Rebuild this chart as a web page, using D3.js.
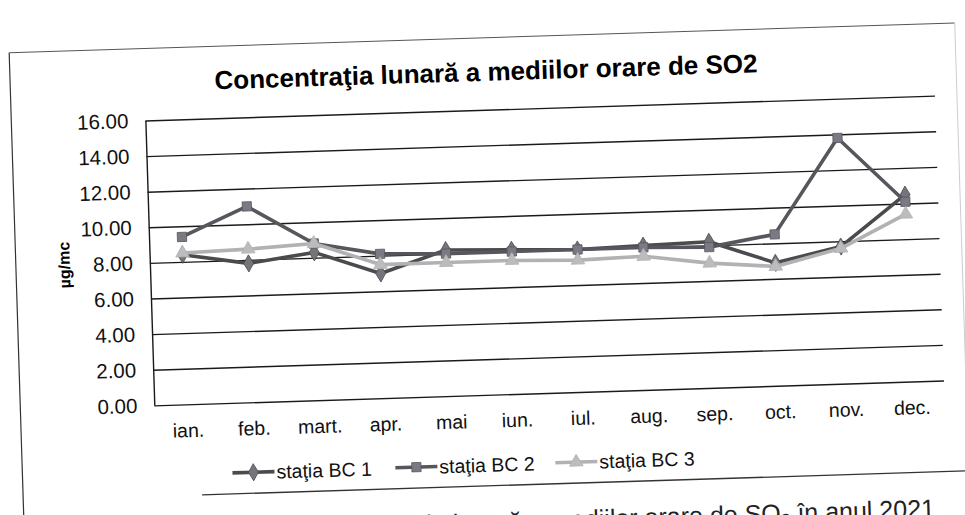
<!DOCTYPE html>
<html>
<head>
<meta charset="utf-8">
<script src="https://cdn.jsdelivr.net/npm/d3@7"></script>
<style>
  body { margin: 0; background: #fff; }
  svg { display: block; font-family: "Liberation Sans", Arial, sans-serif; }
</style>
</head>
<body>
<div id="so2-chart"></div>
<script>
let width = 965, height = 515

// DATA
let months = ['ian.', 'feb.', 'mart.', 'apr.', 'mai', 'iun.', 'iul.', 'aug.', 'sep.', 'oct.', 'nov.', 'dec.']
let bc1 = [8.4, 7.8, 8.3, 7.0, 8.2, 8.1, 8.0, 8.1, 8.2, 6.9, 7.7, 10.5]
let bc2 = [9.4, 11.0, 8.8, 8.1, 8.0, 8.0, 8.0, 8.0, 7.9, 8.5, 13.8, 10.1]
let bc3 = [8.5, 8.6, 8.8, 7.5, 7.5, 7.5, 7.4, 7.5, 7.0, 6.7, 7.6, 9.4]
let seriesNames = ['staţia BC 1', 'staţia BC 2', 'staţia BC 3']
let yTicks = [0, 2, 4, 6, 8, 10, 12, 14, 16]

let plot = { left: 150, right: 940, top: 108, bottom: 393 }

let series = [
  { name: seriesNames[0], values: bc1, line: '#4b4b4f', fill: '#74747a', symbol: d3.symbolDiamond, size: 85 },
  { name: seriesNames[1], values: bc2, line: '#56565c', fill: '#7a7a84', symbol: d3.symbolSquare, size: 85 },
  { name: seriesNames[2], values: bc3, line: '#b2b2b4', fill: '#bcbcbe', symbol: d3.symbolTriangle, size: 80 }
]

// SCALES
let x = d3.scalePoint()
  .domain(months)
  .range([plot.left, plot.right])
  .padding(0.5)

let y = d3.scaleLinear()
  .domain([0, 16])
  .range([plot.bottom, plot.top])

let svg = d3.select('#so2-chart')
  .append('svg')
  .attr('width', width)
  .attr('height', height)

// the scanned page is slightly tilted
let page = svg.append('g')
  .attr('transform', 'rotate(-1.8 545 262)')

// FRAME
page.append('line')
  .attr('x1', 16).attr('y1', 36).attr('x2', 16).attr('y2', 540)
  .attr('stroke', '#333').attr('stroke-width', 1.2)
page.append('line')
  .attr('x1', 16).attr('y1', 36).attr('x2', 962).attr('y2', 36)
  .attr('stroke', '#555').attr('stroke-width', 1)
page.append('line')
  .attr('x1', 962).attr('y1', 36).attr('x2', 962).attr('y2', 484)
  .attr('stroke', '#ccc').attr('stroke-width', 1)
page.append('line')
  .attr('x1', 195).attr('y1', 484).attr('x2', 962).attr('y2', 484)
  .attr('stroke', '#333').attr('stroke-width', 1.3)

// TITLE
page.append('text')
  .attr('x', 492)
  .attr('y', 79)
  .attr('text-anchor', 'middle')
  .style('font-size', '26px')
  .style('font-weight', 'bold')
  .text('Concentraţia lunară a mediilor orare de SO2')

// GRID LINES
let grid = page.append('g')
  .attr('transform', 'translate(' + plot.left + ',0)')
  .call(d3.axisLeft(y)
    .tickValues(yTicks)
    .tickSize(-(plot.right - plot.left))
    .tickFormat('')
  )
grid.selectAll('.domain').remove()
grid.selectAll('.tick line')
  .attr('stroke', '#1a1a1a')
  .attr('stroke-width', 1.4)

// Y AXIS
let yAxis = page.append('g')
  .attr('transform', 'translate(' + plot.left + ',0)')
  .call(d3.axisLeft(y)
    .tickValues(yTicks)
    .tickSize(0)
    .tickPadding(17)
    .tickFormat(d3.format('.2f'))
  )
yAxis.select('.domain')
  .attr('stroke', '#1a1a1a')
  .attr('stroke-width', 1.4)
yAxis.selectAll('text')
  .style('font-size', '20.5px')
  .style('font-family', '"Liberation Sans", Arial, sans-serif')
  .attr('fill', '#111')

page.append('text')
  .attr('transform', 'translate(70,250) rotate(-90)')
  .attr('text-anchor', 'middle')
  .style('font-size', '16px')
  .style('font-weight', 'bold')
  .text('µg/mc')

// X AXIS
let xAxis = page.append('g')
  .attr('transform', 'translate(0,' + plot.bottom + ')')
  .call(d3.axisBottom(x).tickSize(0).tickPadding(19))
xAxis.select('.domain').remove()
xAxis.selectAll('text')
  .style('font-size', '19.5px')
  .style('font-family', '"Liberation Sans", Arial, sans-serif')
  .attr('fill', '#111')

// LINES
let line = d3.line()
  .x(function (d, i) { return x(months[i]) })
  .y(function (d) { return y(d) })

let groups = page.selectAll('.so2-series')
  .data(series)
  .enter().append('g')
  .attr('class', 'so2-series')

groups.append('path')
  .attr('d', function (d) { return line(d.values) })
  .attr('fill', 'none')
  .attr('stroke', function (d) { return d.line })
  .attr('stroke-width', 3.6)
  .attr('stroke-linejoin', 'round')

groups.selectAll('.marker')
  .data(function (d) {
    return d.values.map(function (v, i) { return { v: v, i: i, s: d } })
  })
  .enter().append('path')
  .attr('class', 'marker')
  .attr('transform', function (d) {
    return 'translate(' + x(months[d.i]) + ',' + y(d.v) + ')'
  })
  .attr('d', function (d) { return d3.symbol().type(d.s.symbol).size(d.s.size)() })
  .attr('fill', function (d) { return d.s.fill })
  .attr('stroke', function (d) { return d.s.line })
  .attr('stroke-width', 0.8)

// LEGEND
let legendX = [226, 389, 549]
let legend = page.selectAll('.legend-item')
  .data(series)
  .enter().append('g')
  .attr('class', 'legend-item')
  .attr('transform', function (d, i) { return 'translate(' + legendX[i] + ',463)' })

legend.append('line')
  .attr('x1', 0).attr('x2', 42)
  .attr('stroke', function (d) { return d.line })
  .attr('stroke-width', 3.6)

legend.append('path')
  .attr('transform', 'translate(21,0)')
  .attr('d', function (d) { return d3.symbol().type(d.symbol).size(d.size)() })
  .attr('fill', function (d) { return d.fill })
  .attr('stroke', function (d) { return d.line })
  .attr('stroke-width', 0.8)

legend.append('text')
  .attr('x', 44)
  .attr('y', 7)
  .style('font-size', '19.5px')
  .attr('fill', '#111')
  .text(function (d) { return d.name })

// caption of the figure below, cut by the page edge
page.append('text')
  .attr('x', 927)
  .attr('y', 529)
  .attr('text-anchor', 'end')
  .style('font-size', '25px')
  .attr('fill', '#222')
  .text('Concentraţia lunară a mediilor orare de SO₂ în anul 2021')
</script>
</body>
</html>
